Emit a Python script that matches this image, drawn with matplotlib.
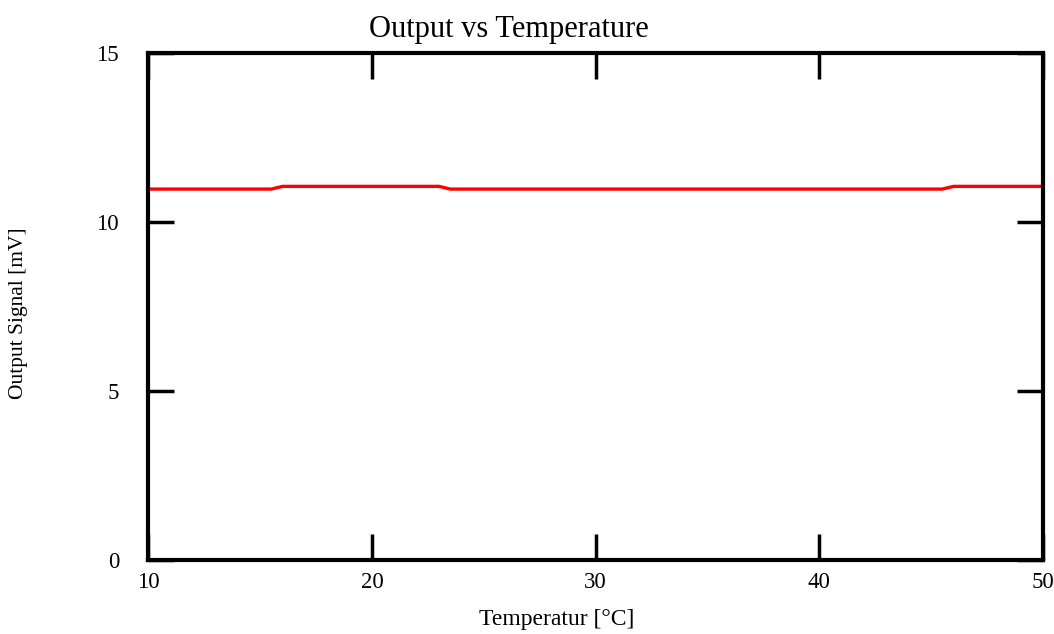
import matplotlib
matplotlib.use("Agg")
import matplotlib.pyplot as plt

temperature = [10, 15.5, 16, 23, 23.5, 45.5, 46, 50]
output_mv = [10.97, 10.97, 11.05, 11.05, 10.97, 10.97, 11.05, 11.05]
x_ticks = [10, 20, 30, 40, 50]
y_ticks = [0, 5, 10, 15]

plt.rcParams['font.family'] = ['Liberation Serif', 'DejaVu Serif']

W, H = 1054, 634
fig = plt.figure(figsize=(W/100, H/100), dpi=100)
L, R, T, B = 148.3, 1043, 53, 559.5
ax = fig.add_axes([L/W, 1 - B/H, (R-L)/W, (B-T)/H])

ax.plot(temperature, output_mv, color='#ff0000', linewidth=2.4)

ax.set_xlim(10, 50)
ax.set_ylim(0, 15)
ax.set_xticks(x_ticks)
ax.set_yticks(y_ticks)
ax.tick_params(direction='in', length=19, width=2.5, top=True, right=True,
               labelsize=16.5, color='black')
ax.tick_params(axis='x', pad=9)
ax.tick_params(axis='y', pad=21)
for s in ax.spines.values():
    s.set_linewidth(3)

fig.text(509/W, 1 - 29/H, 'Output vs Temperature', fontsize=22,
         ha='center', va='center')
fig.text(557/W, 1 - 620/H, 'Temperatur [°C]', fontsize=17,
         ha='center', va='center')
fig.text(19/W, 1 - 313/H, 'Output Signal [mV]', fontsize=15.5,
         ha='center', va='center', rotation=90)

fig.savefig('out.png', dpi=100)
